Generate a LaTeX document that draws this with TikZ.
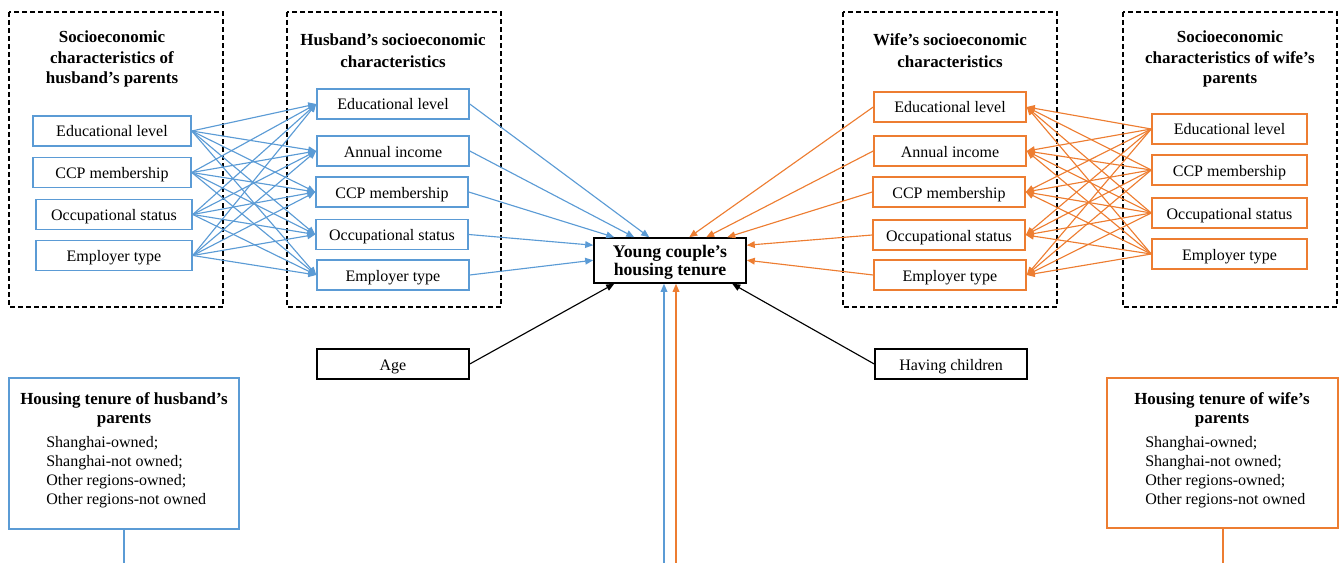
\documentclass[tikz,border=0pt]{standalone}
\usepackage{fontspec}
\setmainfont{Liberation Serif}
\usetikzlibrary{arrows.meta,calc}
\definecolor{myblue}{HTML}{5B9BD5}
\definecolor{myorange}{HTML}{ED7D31}
\begin{document}
\begin{tikzpicture}[x=0.75pt,y=-0.75pt,
  font=\fontsize{12}{14.4}\selectfont,
  box/.style={draw,line width=1.15pt,minimum height=22.5pt,inner sep=0pt,text height=10.5pt,text depth=1.5pt},
  bbox/.style={box,draw=myblue,minimum width=114pt},
  obox/.style={box,draw=myorange,minimum width=114pt},
  kbox/.style={box,draw=black,minimum width=114pt},
  grp/.style={draw,line width=0.9pt,dash pattern=on 3.5pt off 2.5pt},
  ttl/.style={font=\bfseries\fontsize{12.7}{15.5}\selectfont,align=center,inner sep=0pt},
  lst/.style={align=left,inner sep=0pt,font=\fontsize{12}{14.25}\selectfont},
  tip/.style={-{Triangle[length=6pt,width=5pt]}},
  barr/.style={draw=myblue,line width=0.85pt,tip},
  oarr/.style={draw=myorange,line width=0.85pt,tip},
  karr/.style={draw=black,line width=0.85pt,tip},
  bline/.style={draw=myblue,line width=1pt},
  oline/.style={draw=myorange,line width=1pt}]
\useasboundingbox (0,0) rectangle (1341,563);

% group frames
\draw[grp] (9,12) rectangle (223,307);
\draw[grp] (287,12) rectangle (501,307);
\draw[grp] (843,12) rectangle (1057,307);
\draw[grp] (1123,12) rectangle (1337,307);

% titles
\node[ttl] (t1) at (112,59) {Socioeconomic\\characteristics of\\husband’s parents};
\node[ttl,font=\bfseries\fontsize{12.7}{16.5}\selectfont] (t2) at (393,50.5) {Husband’s socioeconomic\\characteristics};
\node[ttl,font=\bfseries\fontsize{12.7}{16.5}\selectfont] (t3) at (950,50.5) {Wife’s socioeconomic\\characteristics};
\node[ttl] (t4) at (1230,59) {Socioeconomic\\characteristics of wife’s\\parents};

% husband's parents
\node[bbox,minimum width=118.5pt] (pe) at (112,131) {Educational level};
\node[bbox,minimum width=118.5pt] (pc) at (112,172.5) {CCP membership};
\node[bbox,minimum width=117pt] (po) at (114,214.5) {Occupational status};
\node[bbox,minimum width=117pt] (pt) at (114,255.5) {Employer type};

% husband
\node[bbox] (he) at (393,104) {Educational level};
\node[bbox] (ha) at (393,151) {Annual income};
\node[bbox] (hc) at (392,192) {CCP membership};
\node[bbox] (ho) at (392,234.5) {Occupational status};
\node[bbox] (ht) at (393,275) {Employer type};

% wife
\node[obox] (we) at (950,107) {Educational level};
\node[obox] (wa) at (950,151) {Annual income};
\node[obox] (wc) at (949,192) {CCP membership};
\node[obox] (wo) at (949,235) {Occupational status};
\node[obox] (wt) at (950,275) {Employer type};

% wife's parents
\node[obox,minimum width=116.25pt] (qe) at (1229.5,129) {Educational level};
\node[obox,minimum width=116.25pt] (qc) at (1229.5,170) {CCP membership};
\node[obox,minimum width=116.25pt] (qo) at (1229.5,213) {Occupational status};
\node[obox,minimum width=116.25pt] (qt) at (1229.5,254) {Employer type};

% centre
\node[kbox,minimum height=33.75pt,text height=,text depth=0pt,font=\bfseries\fontsize{13.3}{13.5}\selectfont,align=center] (c) at (670,260.5) {Young couple’s\\housing tenure};

\node[kbox] (age) at (393,364) {Age};
\node[kbox] (kid) at (951,364) {Having children};

% housing tenure boxes
\node[box,draw=myblue,minimum width=172.5pt,minimum height=113.25pt] (hh) at (124,453.5) {};
\node[ttl,font=\bfseries\fontsize{12.7}{14.25}\selectfont] (hht) at (124,410) {Housing tenure of husband’s\\parents};
\node[lst,anchor=west] (hhl) at (46,472) {Shanghai-owned;\\Shanghai-not owned;\\Other regions-owned;\\Other regions-not owned};

\node[box,draw=myorange,minimum width=173.25pt,minimum height=112.5pt] (wh) at (1222.5,453) {};
\node[ttl,font=\bfseries\fontsize{12.7}{14.25}\selectfont] (wht) at (1222,410) {Housing tenure of wife’s\\parents};
\node[lst,anchor=west] (whl) at (1145,472) {Shanghai-owned;\\Shanghai-not owned;\\Other regions-owned;\\Other regions-not owned};

% crossing arrows
\foreach \s in {pe,pc,po,pt}
  \foreach \t in {he,ha,hc,ho,ht}
    \draw[barr] (\s.east) -- (\t.west);
\foreach \s in {qe,qc,qo,qt}
  \foreach \t in {we,wa,wc,wo,wt}
    \draw[oarr] (\s.west) -- (\t.east);

% arrow targets on centre box
\coordinate (cb1) at ($(c.north west)+(21,0)$);
\coordinate (cb2) at ($(c.north west)+(41,0)$);
\coordinate (cb3) at ($(c.north west)+(56,0)$);
\coordinate (cb4) at ($(c.north west)+(0,8)$);
\coordinate (cb5) at ($(c.north west)+(0,23)$);
\coordinate (co1) at ($(c.north west)+(96,0)$);
\coordinate (co2) at ($(c.north west)+(113,0)$);
\coordinate (co3) at ($(c.north west)+(134,0)$);
\coordinate (co4) at ($(c.north east)+(0,8)$);
\coordinate (co5) at ($(c.north east)+(0,23)$);

\draw[barr] (he.east) -- (cb3);
\draw[barr] (ha.east) -- (cb2);
\draw[barr] (hc.east) -- (cb1);
\draw[barr] (ho.east) -- (cb4);
\draw[barr] (ht.east) -- (cb5);

\draw[oarr] (we.west) -- (co1);
\draw[oarr] (wa.west) -- (co2);
\draw[oarr] (wc.west) -- (co3);
\draw[oarr] (wo.west) -- (co4);
\draw[oarr] (wt.west) -- (co5);

\draw[karr] (age.east) -- ($(c.south west)+(21,0)$);
\draw[karr] (kid.west) -- ($(c.south west)+(139,0)$);

% vertical lines from below
\coordinate (vb) at (664,563);
\coordinate (vo) at (676,563);
\draw[barr] (vb) -- (vb |- c.south);
\draw[oarr] (vo) -- (vo |- c.south);

\coordinate (hb) at (124,563);
\coordinate (wb) at (1223,563);
\draw[bline] (hh.south -| hb) -- (hb);
\draw[oline] (wh.south -| wb) -- (wb);
\end{tikzpicture}
\end{document}
